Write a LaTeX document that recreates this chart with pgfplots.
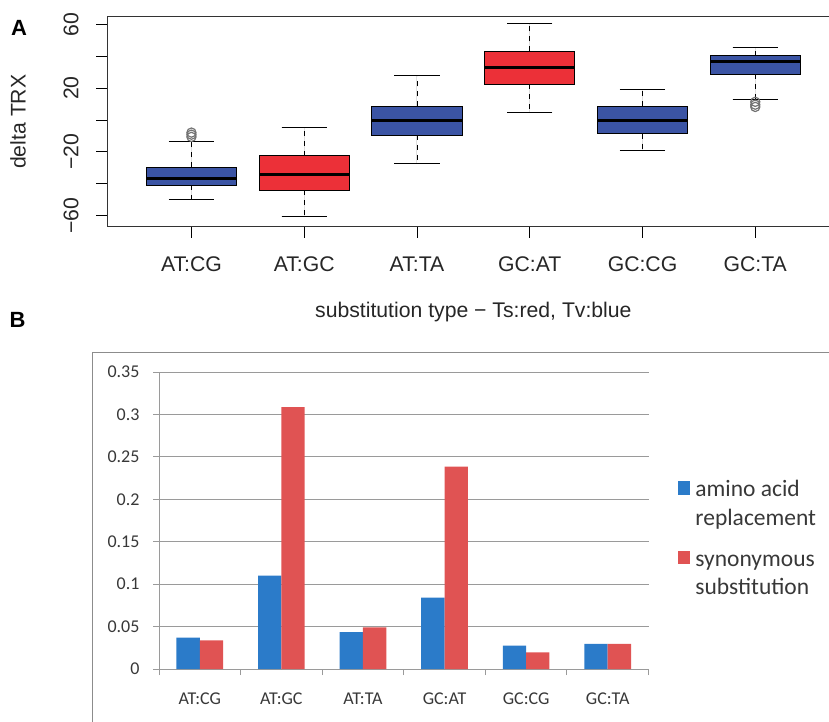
\documentclass[border=0pt]{standalone}
\usepackage{pgfplots}
\pgfplotsset{compat=1.18}
\usepgfplotslibrary{statistics}
\usepackage{fontspec}
\setmainfont{Liberation Sans}
\newfontfamily\carlito{Carlito}
\definecolor{Rblue}{HTML}{3B54A4}
\definecolor{Rred}{HTML}{EC3038}
\definecolor{Xblue}{HTML}{2B7BC9}
\definecolor{Xred}{HTML}{E05353}
\definecolor{Xgrid}{HTML}{9A9A9A}
\definecolor{Xtext}{HTML}{383838}
\pgfplotsset{
  boxplot/draw/lower whisker/.code={%
    \draw[black, line width=0.9pt, dash pattern=on 5pt off 5pt]
      (boxplot cs:\pgfplotsboxplotvalue{lower quartile}) -- (boxplot cs:\pgfplotsboxplotvalue{lower whisker});
    \draw[black, line width=0.9pt]
      (boxplot whisker cs:\pgfplotsboxplotvalue{lower whisker},0) -- (boxplot whisker cs:\pgfplotsboxplotvalue{lower whisker},1);
  },
  boxplot/draw/upper whisker/.code={%
    \draw[black, line width=0.9pt, dash pattern=on 5pt off 5pt]
      (boxplot cs:\pgfplotsboxplotvalue{upper quartile}) -- (boxplot cs:\pgfplotsboxplotvalue{upper whisker});
    \draw[black, line width=0.9pt]
      (boxplot whisker cs:\pgfplotsboxplotvalue{upper whisker},0) -- (boxplot whisker cs:\pgfplotsboxplotvalue{upper whisker},1);
  },
  boxplot/every median/.style={line width=3.2pt, black},
  boxplot/every box/.style={line width=0.9pt},
}
\begin{document}
\begin{tikzpicture}
% ---------------- Panel A ----------------
\begin{axis}[
  at={(108pt,-226pt)}, anchor=south west,
  scale only axis, width=730.7pt, height=210pt,
  xmin=0.26, xmax=6.74, ymin=-66.46, ymax=65.2,
  xtick={1,2,3,4,5,6}, xticklabels={AT:CG,AT:GC,AT:TA,GC:AT,GC:CG,GC:TA},
  ytick={-60,-40,-20,0,20,40,60}, yticklabels={−60,,−20,,20,,60},
  xtick pos=bottom, ytick pos=left,
  tick align=outside, major tick length=11.5pt,
  tick style={black, line width=0.9pt},
  axis line style={line width=1pt, black!80},
  font=\fontsize{21.2}{24}\selectfont,
  tick label style={font=\fontsize{21.2}{24}\selectfont, text=black!85},
  xticklabel style={anchor=base}, xticklabel shift=33.5pt,
  yticklabel style={rotate=90, anchor=base}, yticklabel shift=18pt,
  xlabel={substitution type − Ts:red, Tv:blue},
  ylabel={delta TRX},
  label style={text=black!85},
  xlabel style={at={(axis description cs:0.5,-0.4348)}, anchor=base},
  ylabel style={at={(axis description cs:-0.1232,0.4967)}, anchor=center},
  boxplot/draw direction=y,
]
\addplot[boxplot prepared={draw position=1, median=-36.7, upper quartile=-29.6, lower quartile=-41, upper whisker=-13.75, lower whisker=-49.8, box extend=0.8, whisker extend=0.4}, fill=Rblue, draw=black, mark=o, mark size=4.6pt, mark options={draw=black!55, line width=1.2pt, fill=none}]
  table[row sep=\\, y index=0]{d\\ -7.9\\ -9.2\\ -10.6\\};
\addplot[boxplot prepared={draw position=2, median=-34, upper quartile=-22.3, lower quartile=-44, upper whisker=-4.6, lower whisker=-60.6, box extend=0.8, whisker extend=0.4}, fill=Rred, draw=black, mark=o]
  coordinates {};
\addplot[boxplot prepared={draw position=3, median=-0.25, upper quartile=8.5, lower quartile=-9.4, upper whisker=28.1, lower whisker=-27.5, box extend=0.8, whisker extend=0.4}, fill=Rblue, draw=black, mark=o]
  coordinates {};
\addplot[boxplot prepared={draw position=4, median=33.1, upper quartile=43.1, lower quartile=22.5, upper whisker=60.8, lower whisker=5, box extend=0.8, whisker extend=0.4}, fill=Rred, draw=black, mark=o]
  coordinates {};
\addplot[boxplot prepared={draw position=5, median=-0.25, upper quartile=8.75, lower quartile=-8.6, upper whisker=19.4, lower whisker=-19, box extend=0.8, whisker extend=0.4}, fill=Rblue, draw=black, mark=o]
  coordinates {};
\addplot[boxplot prepared={draw position=6, median=36.9, upper quartile=40.4, lower quartile=28.75, upper whisker=45.6, lower whisker=13.1, box extend=0.8, whisker extend=0.4}, fill=Rblue, draw=black, mark=o, mark size=4.6pt, mark options={draw=black!55, line width=1.2pt, fill=none}]
  table[row sep=\\, y index=0]{d\\ 11.4\\ 9.6\\ 8.2\\};
\end{axis}
% ---------------- Panel B ----------------
\draw[draw=black!45, line width=1.3pt] (92.3pt,-900pt) -- (92.3pt,-352.3pt) -- (900pt,-352.3pt);
\begin{axis}[
  at={(159pt,-669pt)}, anchor=south west,
  scale only axis, width=489.5pt, height=297pt,
  xmin=-0.5, xmax=5.5, ymin=0, ymax=0.35,
  ybar=0pt, bar width=23.3pt,
  axis lines*=left,
  axis line style={draw=Xgrid, line width=1pt},
  ymajorgrids, grid style={draw=Xgrid, line width=0.9pt},
  ytick={0,0.05,0.1,0.15,0.2,0.25,0.3,0.35},
  yticklabels={0,0.05,0.1,0.15,0.2,0.25,0.3,0.35},
  xtick={0,1,2,3,4,5}, xticklabels={AT:CG,AT:GC,AT:TA,GC:AT,GC:CG,GC:TA},
  minor xtick={-0.5,0.5,1.5,2.5,3.5,4.5,5.5},
  major x tick style={draw=none},
  minor x tick style={draw=Xgrid, line width=1pt},
  y tick style={draw=Xgrid, line width=1pt},
  tick align=outside, major tick length=6pt, minor tick length=6pt,
  tick label style={font=\carlito\fontsize{18}{20}\selectfont, text=Xtext},
  yticklabel style={anchor=east}, yticklabel shift=10pt,
  xticklabel style={anchor=base}, xticklabel shift=29pt,
  legend style={at={(axis description cs:1.0597,0.6475)}, anchor=north west,
    draw=none, fill=none, inner sep=0pt, row sep=48pt, column sep=5pt,
    font=\carlito\fontsize{23.5}{28.5}\selectfont, text=Xtext,
    nodes={inner sep=0pt}},
  legend cell align=left,
]
\addplot[fill=Xblue, draw=none, legend image code/.code={\fill[Xblue] (0pt,-7pt) rectangle (12.5pt,6.3pt);}]
  coordinates {(0,0.0369) (1,0.110) (2,0.0436) (3,0.084) (4,0.0275) (5,0.0295)};
\addplot[fill=Xred, draw=none, legend image code/.code={\fill[Xred] (0pt,-7pt) rectangle (12.5pt,6.3pt);}]
  coordinates {(0,0.0338) (1,0.3087) (2,0.0491) (3,0.2384) (4,0.0196) (5,0.0295)};
\addlegendentry{\begin{tabular}[t]{@{}l@{}}amino acid\\replacement\end{tabular}}
\addlegendentry{\begin{tabular}[t]{@{}l@{}}synonymous\\substitution\end{tabular}}
\end{axis}
\node[font=\bfseries\fontsize{22}{24}\selectfont, text=black] at (19pt,-28pt) {A};
\node[font=\bfseries\fontsize{22}{24}\selectfont, text=black] at (17.5pt,-320pt) {B};
\pgfresetboundingbox
\useasboundingbox (0pt,0pt) rectangle (829pt,-721pt);
\end{tikzpicture}
\end{document}
